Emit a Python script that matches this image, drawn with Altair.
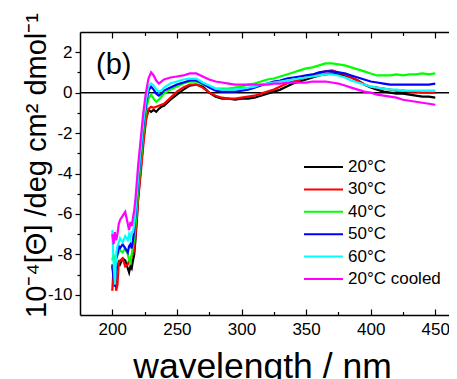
import altair as alt
import pandas as pd

wavelength = [200, 201, 202, 203, 204, 205, 206, 208, 210, 212, 213, 214, 215, 216, 217, 218, 219, 220,
              222, 224, 226, 228, 230, 232, 234, 236, 238, 240,
              245, 250, 255, 260, 265, 270, 275, 280, 285, 290,
              295, 300, 305, 310, 315, 320, 325, 330, 335, 340,
              345, 350, 355, 360, 365, 370, 375, 380, 385, 390,
              395, 400, 405, 410, 415, 420, 425, 430, 435, 440,
              445, 450]

labels = ["20°C", "30°C", "40°C", "50°C", "60°C", "20°C cooled"]
colors = ["#000000", "#ff0000", "#00ff00", "#0000ff", "#00ffff", "#ff00ff"]

s20 = [-8.5, -9.0, -9.3, -8.6, -8.8, -8.4, -8.5, -8.2, -8.3, -8.7, -8.9, -8.6, -8.7, -8.3, -8.0, -7.2, -6.3, -5.2,
       -3.8, -2.4, -1.3, -0.85, -0.95, -0.85, -0.95, -0.8, -0.7, -0.65,
       -0.35, -0.1, 0.15, 0.35, 0.4, 0.3, 0.0, -0.2, -0.3, -0.3,
       -0.35, -0.3, -0.3, -0.25, -0.15, -0.05, 0.05, 0.15, 0.3, 0.45,
       0.55, 0.65, 0.75, 0.85, 0.9, 0.95, 0.9, 0.85, 0.75, 0.6,
       0.4, 0.25, 0.15, 0.05, 0.0, -0.05, -0.05, -0.1, -0.15, -0.2,
       -0.2, -0.25]
s30 = [-9.8, -8.6, -8.8, -9.8, -9.5, -8.4, -8.3, -8.2, -8.6, -8.5, -8.3, -8.4, -8.1, -8.0, -7.8, -7.0, -6.2, -5.3,
       -4.0, -2.6, -1.4, -0.8, -0.7, -0.75, -0.7, -0.65, -0.6, -0.55,
       -0.25, 0.05, 0.25, 0.4, 0.4, 0.25, 0.0, -0.15, -0.25, -0.3,
       -0.3, -0.25, -0.2, -0.15, -0.05, 0.05, 0.15, 0.3, 0.45, 0.55,
       0.65, 0.75, 0.85, 0.95, 1.05, 1.1, 1.0, 0.9, 0.75, 0.6,
       0.4, 0.3, 0.25, 0.2, 0.15, 0.1, 0.1, 0.05, 0.05, 0.0,
       0.0, 0.0]
s40 = [-8.3, -8.0, -8.6, -8.2, -8.0, -7.9, -7.8, -7.9, -7.7, -8.0, -8.3, -8.4, -8.0, -7.6, -7.2, -6.5, -5.7, -4.8,
       -3.4, -2.0, -0.9, -0.3, -0.1, -0.3, -0.45, -0.35, -0.2, -0.05,
       0.15, 0.3, 0.45, 0.55, 0.55, 0.4, 0.3, 0.2, 0.2, 0.2,
       0.25, 0.3, 0.4, 0.45, 0.55, 0.65, 0.7, 0.8, 0.9, 1.0,
       1.1, 1.2, 1.25, 1.35, 1.45, 1.45, 1.4, 1.35, 1.25, 1.15,
       1.05, 0.95, 0.85, 0.85, 0.85, 0.9, 0.85, 0.9, 0.9, 0.95,
       0.9, 0.95]
s50 = [-8.6, -9.2, -9.6, -8.2, -8.0, -7.6, -7.7, -7.5, -7.7, -7.9, -7.6, -7.5, -7.7, -7.3, -6.8, -6.0, -5.2, -4.4,
       -3.0, -1.7, -0.6, 0.1, 0.3, 0.15, -0.05, -0.15, -0.05, 0.1,
       0.25, 0.4, 0.5, 0.6, 0.6, 0.45, 0.25, 0.1, 0.05, 0.05,
       0.05, 0.1, 0.15, 0.25, 0.35, 0.45, 0.55, 0.6, 0.7, 0.75,
       0.8, 0.85, 0.9, 1.0, 1.05, 1.05, 1.0, 0.95, 0.85, 0.75,
       0.65, 0.55, 0.5, 0.45, 0.4, 0.4, 0.4, 0.4, 0.4, 0.4,
       0.4, 0.45]
s60 = [-6.8, -8.4, -9.5, -8.0, -7.6, -7.4, -7.2, -7.4, -7.1, -7.3, -7.0, -7.2, -6.9, -6.9, -6.5, -5.8, -5.0, -4.2,
       -2.8, -1.5, -0.4, 0.3, 0.45, 0.35, 0.15, 0.05, 0.1, 0.25,
       0.45, 0.55, 0.65, 0.7, 0.7, 0.5, 0.35, 0.2, 0.15, 0.15,
       0.15, 0.2, 0.25, 0.3, 0.4, 0.45, 0.5, 0.55, 0.6, 0.65,
       0.7, 0.75, 0.8, 0.85, 0.9, 0.9, 0.85, 0.75, 0.6, 0.5,
       0.4, 0.3, 0.25, 0.2, 0.15, 0.15, 0.1, 0.1, 0.1, 0.1,
       0.1, 0.1]
s20c = [-7.0, -7.5, -6.9, -7.3, -7.0, -6.5, -6.3, -6.1, -5.9, -6.5, -6.8, -6.4, -6.6, -6.2, -5.8, -5.2, -4.4, -3.6,
        -2.3, -1.0, 0.0, 0.7, 1.0, 0.85, 0.6, 0.45, 0.55, 0.65,
        0.75, 0.8, 0.85, 0.95, 0.95, 0.8, 0.65, 0.55, 0.5, 0.45,
        0.4, 0.4, 0.4, 0.4, 0.4, 0.4, 0.45, 0.45, 0.5, 0.5,
        0.5, 0.5, 0.55, 0.55, 0.55, 0.5, 0.45, 0.35, 0.25, 0.15,
        0.05, 0.0, -0.1, -0.15, -0.2, -0.25, -0.35, -0.4, -0.45, -0.5,
        -0.55, -0.6]

x_major = [200, 250, 300, 350, 400, 450]
x_all_ticks = [200, 225, 250, 275, 300, 325, 350, 375, 400, 425, 450]
y_ticks = [-10, -9, -8, -7, -6, -5, -4, -3, -2, -1, 0, 1, 2]

series = [s20, s30, s40, s50, s60, s20c]
rows = []
for k, (lab, vals) in enumerate(zip(labels, series)):
    assert len(vals) == len(wavelength), lab
    for w, v in zip(wavelength, vals):
        rows.append({"wavelength": w, "value": v, "series": lab, "k": k})
df = pd.DataFrame(rows)

W, H = 369, 283
FONT = "Liberation Sans"

xscale = alt.Scale(domain=[175, 460.6], nice=False, zero=False)
yscale = alt.Scale(domain=[-11, 3], nice=False, zero=False)

x_tick_size = {"condition": {"test": "datum.value % 50 === 0", "value": 6}, "value": 3.5}
y_tick_size = {"condition": {"test": "datum.value % 2 === 0", "value": 5}, "value": 3}

zero = alt.Chart(pd.DataFrame({"zero": [0]})).mark_rule(color="black", strokeWidth=1.5).encode(
    y=alt.Y("zero:Q", scale=yscale, axis=None)
)

lines = alt.Chart(df).mark_line(strokeWidth=2.2, clip=True).encode(
    x=alt.X("wavelength:Q", scale=xscale,
            axis=alt.Axis(orient="bottom", values=x_major, ticks=False, grid=False,
                          labelFontSize=17, labelPadding=6, labelFont=FONT, labelColor="black",
                          domainColor="black", domainWidth=1.5,
                          title="wavelength / nm", titleFontSize=35.5, titleFont=FONT,
                          titleFontWeight="normal", titleColor="black",
                          titleX=182, titleY=62, titleBaseline="alphabetic", titleAlign="center")),
    y=alt.Y("value:Q", scale=yscale,
            axis=alt.Axis(orient="left", values=y_ticks, grid=False, tickSize=y_tick_size,
                          tickColor="black", tickWidth=1.2,
                          labelExpr="datum.value % 2 === 0 ? '' + datum.value : ''",
                          labelFontSize=17, labelPadding=3, labelFont=FONT, labelColor="black",
                          domainColor="black", domainWidth=1.5,
                          title="10⁻⁴[Θ] /deg cm² dmol⁻¹", titleFontSize=29, titleFont=FONT,
                          titleFontWeight="normal", titleColor="black",
                          titleX=-35, titleY=133, titleBaseline="alphabetic", titleAlign="center",
                          titleAngle=270)),
    color=alt.Color("series:N", scale=alt.Scale(domain=labels, range=colors),
                    legend=alt.Legend(orient="none", legendX=230.5, legendY=122, title=None,
                                      symbolType="M-1.625,0H1.625", symbolSize=576,
                                      symbolStrokeWidth=2, symbolFillColor="transparent",
                                      labelFontSize=17, labelFont=FONT, labelColor="black",
                                      labelOffset=11.5, rowPadding=1.4, padding=0)),
    detail="k:N",
)

ticks_top = alt.Chart(pd.DataFrame({"w": x_all_ticks})).mark_rule(opacity=0).encode(
    x=alt.X("w:Q", scale=xscale,
            axis=alt.Axis(orient="bottom", offset=-H, values=x_all_ticks, labels=False, title=None,
                          grid=False, tickSize=x_tick_size, tickColor="black", tickWidth=1.2,
                          domain=True, domainColor="black", domainWidth=1.5))
)
ticks_bottom_in = alt.Chart(pd.DataFrame({"w": x_all_ticks})).mark_rule(opacity=0).encode(
    x=alt.X("w:Q", scale=xscale,
            axis=alt.Axis(orient="top", offset=-H, values=x_all_ticks, labels=False, title=None,
                          grid=False, tickSize=x_tick_size, tickColor="black", tickWidth=1.2,
                          domain=False))
)

label_b = alt.Chart(pd.DataFrame({"t": ["(b)"]})).mark_text(
    align="left", baseline="alphabetic", fontSize=29, font=FONT, color="black"
).encode(x=alt.value(16), y=alt.value(42), text="t:N")

chart = alt.layer(zero, lines, ticks_top, ticks_bottom_in, label_b).resolve_scale(
    x="shared", y="shared"
).resolve_axis(x="independent", y="independent").properties(
    width=W, height=H, autosize=alt.AutoSizeParams(type="none"),
    padding={"left": 72, "top": 24, "right": 0, "bottom": 64},
    background="white",
).configure_view(stroke=None)

chart.save("out.html", embed_options={"renderer": "svg", "actions": False})
